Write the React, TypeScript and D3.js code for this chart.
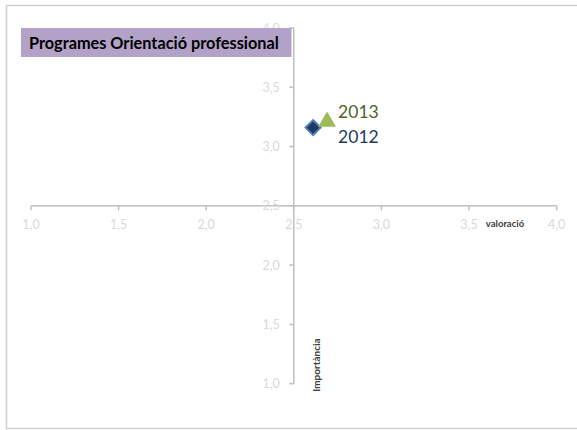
import React from "react";
import * as d3 from "d3";

const xTicks = [1.0, 1.5, 2.0, 2.5, 3.0, 3.5, 4.0];
const yTicks = [1.0, 1.5, 2.0, 2.5, 3.0, 3.5, 4.0];
const seriesNames = ["2012", "2013"];
const valoracio = [2.61, 2.69];
const importancia = [3.16, 3.21];

const W = 577;
const H = 430;
const FONT = "Lato, 'Open Sans', sans-serif";

export default function App() {
  const x = d3.scaleLinear().domain([1, 4]).range([31, 556.6]);
  const y = d3.scaleLinear().domain([1, 4]).range([383.7, 28]);
  const fmt = (v: number) => d3.format(".1f")(v).replace(".", ",");
  const axisColor = "#bfbfbf";
  const tickColor = "#d9d9d9";
  const x0 = x(2.5);
  const y0 = y(2.5);
  const diamond = d3.symbol().type(d3.symbolDiamond2).size(145)();
  const tri = d3.symbol().type(d3.symbolTriangle2).size(225)();

  return (
    <svg width={W} height={H} style={{ position: "absolute", left: 0, top: 0 }}>
      <rect x={0} y={0} width={W} height={H} fill="#fff" />
      <rect x={6.5} y={5.5} width={600} height={423} fill="none" stroke="#d0d0d0" strokeWidth={1.5} />
      {/* x axis */}
      <line x1={x(1)} x2={x(4)} y1={y0} y2={y0} stroke={axisColor} strokeWidth={1.5} />
      {xTicks.map((t) => (
        <g key={"xt" + t}>
          <line x1={x(t)} x2={x(t)} y1={y0} y2={y0 + 4.5} stroke={axisColor} strokeWidth={1.5} />
          <text x={x(t)} y={y0 + 23} textAnchor="middle" fontFamily={FONT} fontSize={12.5} fill={tickColor}>
            {fmt(t)}
          </text>
        </g>
      ))}
      {/* y axis */}
      <line x1={x0} x2={x0} y1={y(1)} y2={y(4)} stroke={axisColor} strokeWidth={1.5} />
      {yTicks.map((t) => (
        <g key={"yt" + t}>
          <line x1={x0 - 4.5} x2={x0} y1={y(t)} y2={y(t)} stroke={axisColor} strokeWidth={1.5} />
          <text x={x0 - 14} y={y(t) + 4.5} textAnchor="end" fontFamily={FONT} fontSize={12.5} fill={tickColor}>
            {fmt(t)}
          </text>
        </g>
      ))}
      {/* axis titles */}
      <text x={505} y={y0 + 21.5} textAnchor="middle" fontFamily={FONT} fontWeight="bold" fontSize={9.5} fill="#404040">
        valoració
      </text>
      <text
        transform={`translate(${x0 + 26.5},${y(1) + 8}) rotate(-90)`}
        fontFamily={FONT}
        fontWeight="bold"
        fontSize={10}
        fill="#404040"
      >
        Importància
      </text>
      {/* points */}
      <path
        d={diamond as string}
        transform={`translate(${x(valoracio[0])},${y(importancia[0])})`}
        fill="#1f3864"
        stroke="#4f81bd"
        strokeWidth={2}
      />
      <path
        d={tri as string}
        transform={`translate(${x(valoracio[1])},${y(importancia[1])})`}
        fill="#9bbb59"
      />
      <text x={x(valoracio[1]) + 11} y={y(importancia[1]) - 3.5} fontFamily={FONT} fontSize={17.5} fill="#4f6228">
        {seriesNames[1]}
      </text>
      <text x={x(valoracio[1]) + 11} y={y(importancia[0]) + 15} fontFamily={FONT} fontSize={17.5} fill="#1f3864">
        {seriesNames[0]}
      </text>
      {/* title */}
      <rect x={21} y={28} width={270.5} height={29} fill="#b3a2c7" />
      <text x={29} y={48.5} fontFamily={FONT} fontWeight="bold" fontSize={16.3} fill="#000">
        Programes Orientació professional
      </text>
    </svg>
  );
}
